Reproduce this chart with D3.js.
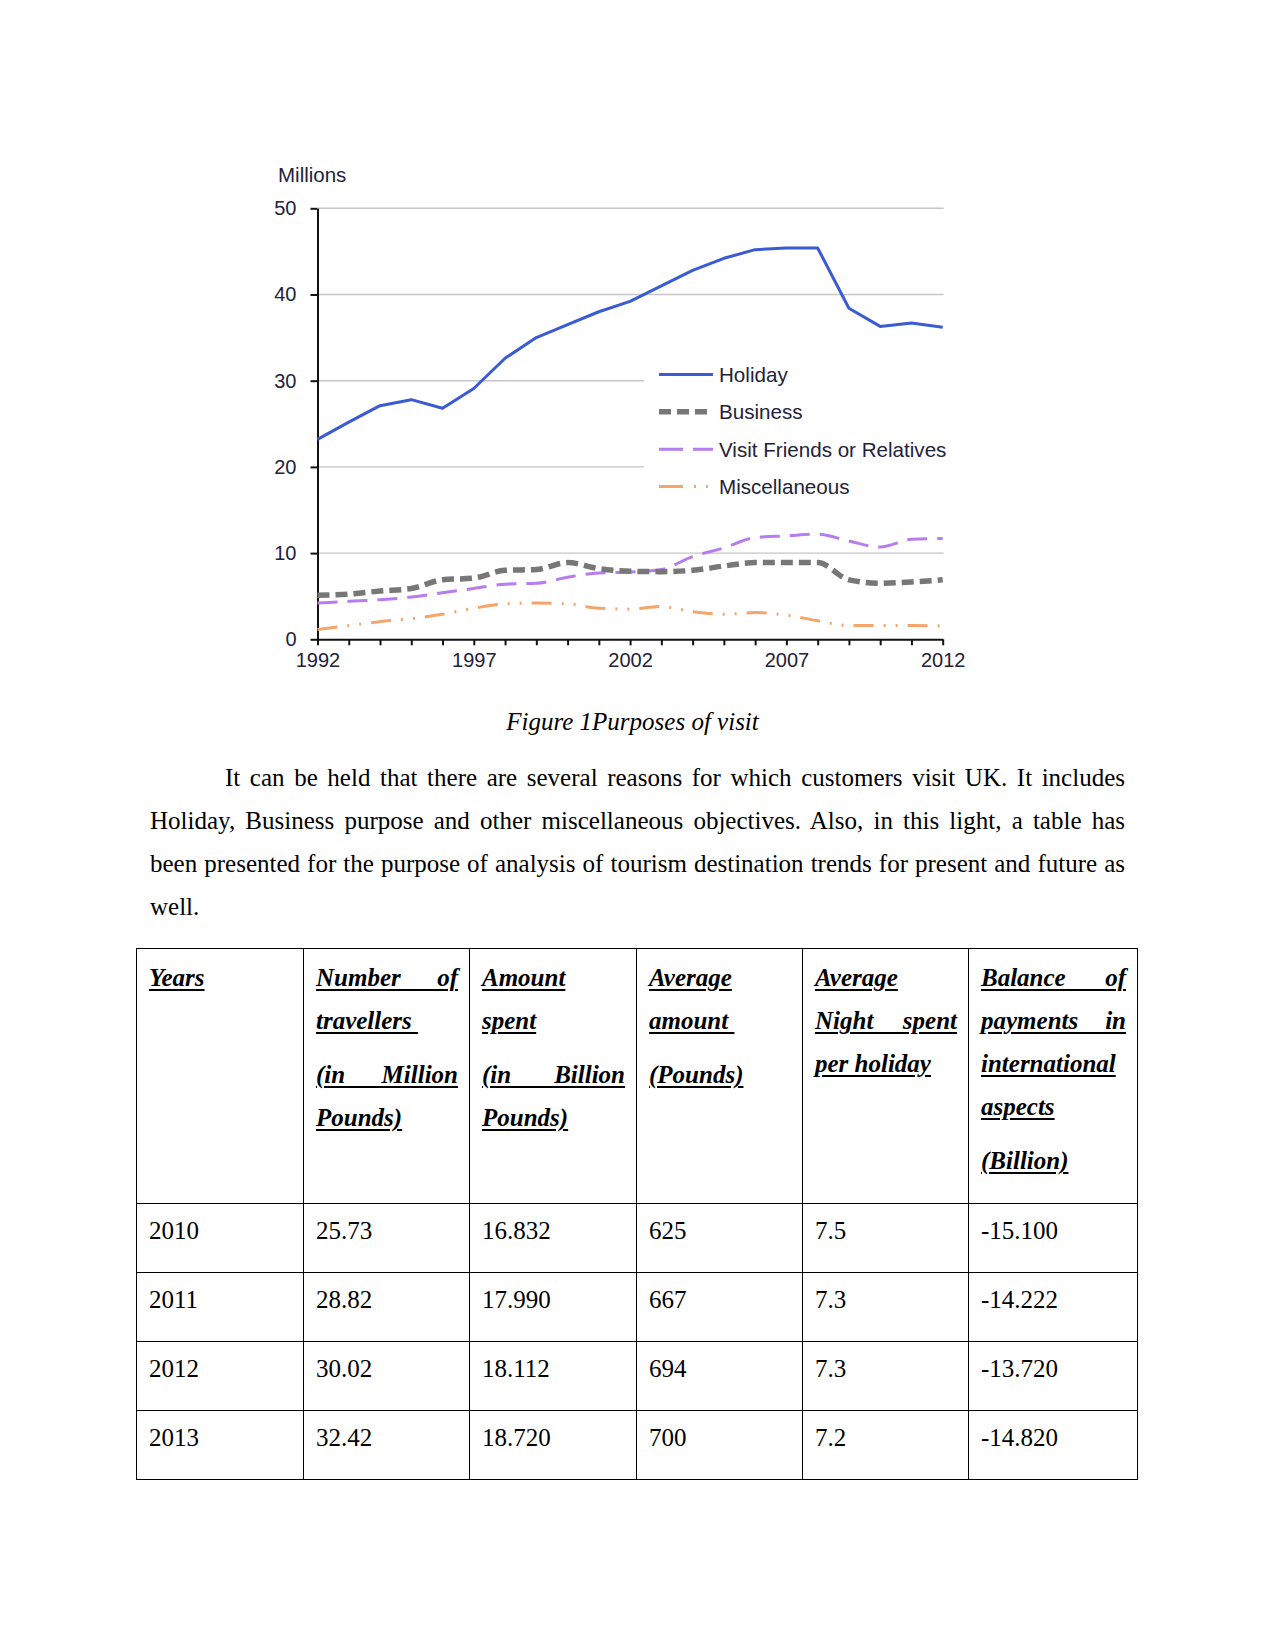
<!DOCTYPE html>
<html>
<head>
<meta charset="utf-8">
<script src="https://cdn.jsdelivr.net/npm/d3@7"></script>
<style>
  html, body { margin: 0; padding: 0; background: #fff; }
  #page { position: relative; width: 1275px; height: 1650px; overflow: hidden; }
  #chart { position: absolute; left: 0; top: 0; }
  .serif { font-family: "Liberation Serif", "Times New Roman", serif; font-size: 25px; line-height: 43px; color: #000; }
  #caption { position: absolute; left: 145px; width: 975px; top: 700px; text-align: center; font-style: italic; }
  #para { position: absolute; left: 150px; width: 975px; top: 756px; }
  .jl { text-align: justify; text-align-last: justify; white-space: normal; }
  .ll { text-align: left; white-space: pre; }
  #tbl { position: absolute; left: 136px; top: 948px; border-collapse: collapse; table-layout: fixed; }
  #tbl td { border: 1.3px solid #000; vertical-align: top; padding: 0 11px 0 12px; box-sizing: border-box; }
  #tbl tr.head td { height: 255px; padding-top: 7px; font-weight: bold; font-style: italic; }
  #tbl tr.body td { height: 69px; padding-top: 5px; }
  #tbl .hp + .hp { margin-top: 11px; }
  #tbl .u { text-decoration: underline; text-decoration-thickness: 1.5px; text-underline-offset: 3px; }
</style>
</head>
<body>
<div id="page"></div>
<script>
// ---------- chart data ----------
const years = [1992, 1993, 1994, 1995, 1996, 1997, 1998, 1999, 2000, 2001, 2002,
               2003, 2004, 2005, 2006, 2007, 2008, 2009, 2010, 2011, 2012];
const holiday  = [23.2, 25.2, 27.1, 27.8, 26.8, 29.1, 32.6, 35.0, 36.5, 38.0, 39.2,
                  41.0, 42.8, 44.2, 45.2, 45.4, 45.4, 38.4, 36.3, 36.7, 36.2];
const business = [5.1, 5.25, 5.6, 5.9, 6.9, 7.1, 8.0, 8.1, 8.9, 8.2, 7.9,
                  7.85, 8.0, 8.5, 8.9, 8.9, 8.9, 6.9, 6.5, 6.65, 6.9];
const vfr      = [4.2, 4.4, 4.6, 4.9, 5.4, 5.9, 6.4, 6.5, 7.2, 7.7, 7.8,
                  8.1, 9.6, 10.6, 11.8, 12.0, 12.2, 11.4, 10.7, 11.6, 11.7];
const misc     = [1.15, 1.6, 2.05, 2.4, 2.9, 3.6, 4.1, 4.2, 4.1, 3.6, 3.5,
                  3.8, 3.2, 2.9, 3.1, 2.8, 2.15, 1.6, 1.6, 1.6, 1.55];
const seriesNames = ["Holiday", "Business", "Visit Friends or Relatives", "Miscellaneous"];
const yTicks = [0, 10, 20, 30, 40, 50];
const xLabelYears = [1992, 1997, 2002, 2007, 2012];
const yAxisTitle = "Millions";

// ---------- text data ----------
const captionText = "Figure 1Purposes of visit";
const paraLines = [
  "It can be held that there are several reasons for which customers visit UK. It includes",
  "Holiday, Business purpose and other miscellaneous objectives. Also, in this light, a table has",
  "been presented for the purpose of analysis of tourism destination trends for present and future as",
  "well."
];
const tableHeaders = [
  [["Years"]],
  [["Number of", "travellers "], ["(in Million", "Pounds)"]],
  [["Amount", "spent"], ["(in Billion", "Pounds)"]],
  [["Average", "amount "], ["(Pounds)"]],
  [["Average", "Night spent", "per holiday"]],
  [["Balance of", "payments in", "international", "aspects"], ["(Billion)"]]
];
const tYears      = ["2010", "2011", "2012", "2013"];
const tTravellers = ["25.73", "28.82", "30.02", "32.42"];
const tSpent      = ["16.832", "17.990", "18.112", "18.720"];
const tAvgAmount  = ["625", "667", "694", "700"];
const tNights     = ["7.5", "7.3", "7.3", "7.2"];
const tBalance    = ["-15.100", "-14.222", "-13.720", "-14.820"];
const colWidths = [167, 166, 167, 166, 166, 169];

// ---------- chart ----------
const page = d3.select("#page");
const svg = page.append("svg").attr("id", "chart").attr("width", 1275).attr("height", 700);

const x = d3.scaleLinear().domain([1992, 2012]).range([317.5, 942.7]);
const y = d3.scaleLinear().domain([0, 50]).range([639.3, 208.3]);
const sansFont = "'Liberation Sans', Arial, sans-serif";
const textColor = "#22223a";

// gridlines
svg.append("g").selectAll("line").data(yTicks.filter(d => d > 0)).join("line")
  .attr("x1", x(1992)).attr("x2", x(2012) + 1)
  .attr("y1", d => y(d)).attr("y2", d => y(d))
  .attr("stroke", "#c6c6c6").attr("stroke-width", 1.4);

// legend background (hides gridlines)
svg.append("rect").attr("x", 644).attr("y", 338).attr("width", 330).attr("height", 168).attr("fill", "#fff");

// axes
const yAxis = d3.axisLeft(y).tickValues(yTicks).tickSize(7).tickSizeOuter(0).tickPadding(14);
const gy = svg.append("g").attr("transform", `translate(${x(1992)},0)`).call(yAxis);
gy.select(".domain").attr("stroke", "#111").attr("stroke-width", 2);
gy.selectAll(".tick line").attr("stroke", "#111").attr("stroke-width", 2);
gy.selectAll(".tick text").attr("font-family", sansFont).attr("font-size", 20).attr("fill", textColor);

const xAxis = d3.axisBottom(x).tickValues(years).tickSize(6).tickSizeOuter(0).tickPadding(8)
  .tickFormat(d => xLabelYears.includes(d) ? String(d) : "");
const gx = svg.append("g").attr("transform", `translate(0,${y(0)})`).call(xAxis);
gx.select(".domain").attr("stroke", "#111").attr("stroke-width", 2);
gx.selectAll(".tick line").attr("stroke", "#111").attr("stroke-width", 2);
gx.selectAll(".tick text").attr("font-family", sansFont).attr("font-size", 20).attr("fill", textColor);

svg.append("text").attr("x", 278).attr("y", 182).text(yAxisTitle)
  .attr("font-family", sansFont).attr("font-size", 20.5).attr("fill", textColor);

// series
const series = [
  { name: seriesNames[0], values: holiday,  color: "#3a5bd4", width: 3,   dash: null,                 curve: d3.curveLinear,     legDash: null },
  { name: seriesNames[1], values: business, color: "#777777", width: 5.5, dash: "12,6",               curve: d3.curveMonotoneX,  legDash: "12,6" },
  { name: seriesNames[2], values: vfr,      color: "#b67cf0", width: 3,   dash: "20,10",              curve: d3.curveMonotoneX,  legDash: "24,10" },
  { name: seriesNames[3], values: misc,     color: "#f3a56c", width: 3,   dash: "20,10,2,10,2,10",    curve: d3.curveMonotoneX,  legDash: "24,11,2,10,2,10" }
];

const drawOrder = [3, 2, 1, 0];
drawOrder.forEach(i => {
  const s = series[i];
  const line = d3.line().x((d, j) => x(years[j])).y(d => y(d)).curve(s.curve);
  svg.append("path").datum(s.values)
    .attr("d", line).attr("fill", "none")
    .attr("stroke", s.color).attr("stroke-width", s.width)
    .attr("stroke-dasharray", s.dash)
    .attr("stroke-linejoin", "round");
});

// legend
const legY = [374.5, 411.8, 449.3, 486.5];
const leg = svg.append("g").selectAll("g").data(series).join("g")
  .attr("transform", (d, i) => `translate(659,${legY[i]})`);
leg.append("line").attr("x1", 0).attr("x2", 54).attr("y1", 0).attr("y2", 0)
  .attr("stroke", d => d.color).attr("stroke-width", d => d.width)
  .attr("stroke-dasharray", d => d.legDash);
leg.append("text").attr("x", 60).attr("y", 7.5).text(d => d.name)
  .attr("font-family", sansFont).attr("font-size", 20.6).attr("fill", textColor);

// ---------- caption & paragraph ----------
page.append("div").attr("id", "caption").attr("class", "serif").text(captionText);
const para = page.append("div").attr("id", "para").attr("class", "serif");
para.selectAll("div").data(paraLines).join("div")
  .attr("class", (d, i) => i < paraLines.length - 1 ? "jl" : "ll")
  .style("text-indent", (d, i) => i === 0 ? "75px" : "0px")
  .text(d => d);

// ---------- table ----------
const tbl = page.append("table").attr("id", "tbl").attr("class", "serif");
const cg = tbl.append("colgroup");
cg.selectAll("col").data(colWidths).join("col").style("width", d => d + "px");

const headRow = tbl.append("tr").attr("class", "head");
const hcells = headRow.selectAll("td").data(tableHeaders).join("td");
const paras = hcells.selectAll("div.hp").data(d => d).join("div").attr("class", "hp");
paras.selectAll("div").data(p => p.map((line, k) => ({ line, last: k === p.length - 1 }))).join("div")
  .attr("class", d => d.last ? "ll" : "jl")
  .append("span").attr("class", "u").text(d => d.line);

const rows = tYears.map((yr, i) => [yr, tTravellers[i], tSpent[i], tAvgAmount[i], tNights[i], tBalance[i]]);
tbl.selectAll("tr.body").data(rows).join("tr").attr("class", "body")
  .selectAll("td").data(d => d).join("td").text(d => d);
</script>
</body>
</html>
